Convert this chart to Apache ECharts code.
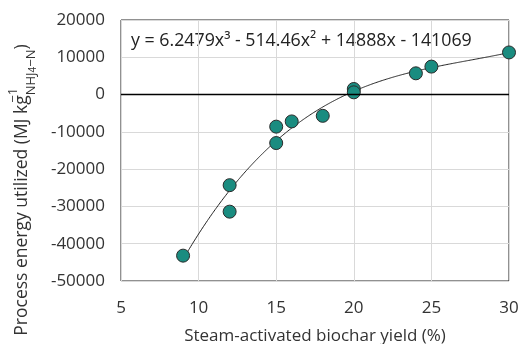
<!DOCTYPE html>
<html>
<head>
<meta charset="utf-8">
<script src="https://cdn.jsdelivr.net/npm/echarts@6/dist/echarts.min.js"></script>
<style>html,body{margin:0;padding:0;background:#fff;}#c{width:521px;height:344px;}</style>
</head>
<body>
<div id="c"></div>
<script>
const yieldValues = [9, 12, 12, 15, 15, 16, 18, 20, 20, 24, 25, 30];
const energyValues = [-43200, -24300, -31400, -13000, -8600, -7200, -5700, 1500, 600, 5700, 7500, 11300];
const trendCoefficients = [6.2479, -514.46, 14888, -141069];
const trendRange = [9, 30];
const equationText = 'y = 6.2479x³ - 514.46x² + 14888x - 141069';
const xAxisTitle = 'Steam-activated biochar yield (%)';

const FONT = '"Open Sans"';
const points = yieldValues.map((x, i) => [x, energyValues[i]]);
const trend = [];
for (let x = trendRange[0]; x <= trendRange[1] + 1e-9; x += 0.25) {
  const c = trendCoefficients;
  trend.push([x, c[0] * x * x * x + c[1] * x * x + c[2] * x + c[3]]);
}

const chart = echarts.init(document.getElementById('c'), null, {renderer: 'canvas'});
chart.setOption({
  animation: false,
  backgroundColor: '#fff',
  grid: {left: 121, right: 12, top: 20, bottom: 63, show: true, borderColor: '#222', borderWidth: 1, containLabel: false, outerBoundsMode: 'none'},
  xAxis: {
    type: 'value', min: 5, max: 30, interval: 5,
    name: xAxisTitle, nameLocation: 'middle', nameGap: 47,
    nameTextStyle: {fontFamily: FONT, fontSize: 17, color: '#333'},
    axisLine: {show: false}, axisTick: {show: false},
    axisLabel: {fontFamily: FONT, fontSize: 17, color: '#333', margin: 19},
    splitLine: {show: true, lineStyle: {color: '#d9d9d9', width: 1}}
  },
  yAxis: {
    type: 'value', min: -50000, max: 20000, interval: 10000,
    axisLine: {show: false}, axisTick: {show: false},
    axisLabel: {fontFamily: FONT, fontSize: 17, color: '#333', margin: 16, formatter: v => String(v)},
    splitLine: {show: true, lineStyle: {color: '#d9d9d9', width: 1}}
  },
  graphic: [
    {
      type: 'text', left: 131, top: 32, silent: true,
      style: {text: equationText, font: '17.8px ' + FONT, fill: '#222'}
    },
    {
      type: 'text', x: 22, y: 190, rotation: Math.PI / 2, silent: true,
      style: {
        text: '{m|Process energy utilized (MJ kg}{sup|−1}{sub|NHJ}{s4|4}{sub|−N}{m|)}',
        align: 'center', verticalAlign: 'middle',
        rich: {
          m: {fontFamily: FONT, fontSize: 17.5, fill: '#333', lineHeight: 32, verticalAlign: 'middle'},
          sup: {fontFamily: FONT, fontSize: 13, fill: '#333', verticalAlign: 'top', lineHeight: 32, width: 0, align: 'left', padding: [1, 0, 0, 0]},
          sub: {fontFamily: FONT, fontSize: 13, fill: '#333', verticalAlign: 'bottom', lineHeight: 32},
          s4: {fontFamily: FONT, fontSize: 10, fill: '#333', verticalAlign: 'bottom', lineHeight: 32}
        }
      }
    }
  ],
  series: [
    {
      type: 'line', data: trend, showSymbol: false, symbol: 'none', smooth: true,
      lineStyle: {color: '#222', width: 1}, z: 2,
      markLine: {
        silent: true, symbol: 'none', label: {show: false},
        lineStyle: {color: '#000', width: 1.3, type: 'solid'},
        data: [{yAxis: 0}]
      }
    },
    {
      type: 'scatter', data: points, symbol: 'circle', symbolSize: 13, z: 3,
      itemStyle: {color: '#1a8c80', borderColor: '#2b2b2b', borderWidth: 1, opacity: 1}
    }
  ]
});
</script>
</body>
</html>
